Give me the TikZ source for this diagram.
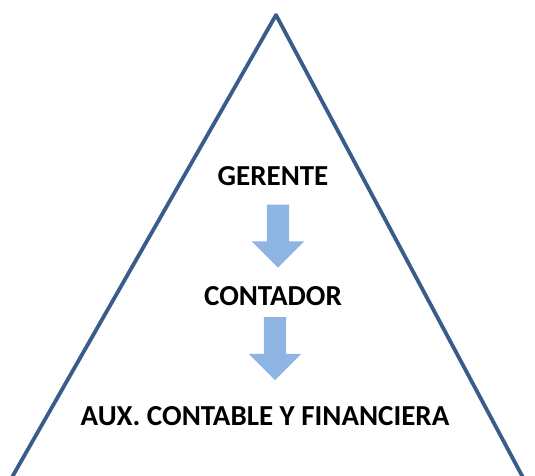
\documentclass[tikz,border=0pt]{standalone}
\usepackage{fontspec}
\setmainfont{Carlito}
\usetikzlibrary{shapes.arrows}
\usetikzlibrary{positioning}

\definecolor{edgeblue}{RGB}{56,93,138}
\definecolor{arrowblue}{RGB}{142,180,227}

\begin{document}
\begin{tikzpicture}[
        x=1pt, y=-1pt,
        rank/.style={font=\bfseries\fontsize{29}{33}\selectfont, inner sep=0},
        down/.style={single arrow, fill=arrowblue, draw=none, rotate=-90,
            inner xsep=0pt, inner ysep=11pt, minimum height=63pt,
            single arrow head extend=15pt, single arrow head indent=0pt},
        edge/.style={draw=edgeblue, line width=3.8pt, line join=round}
    ]

        % frame of the picture
        \useasboundingbox (0,0) rectangle (535,476);
        \clip (0,0) rectangle (535,476);

        % pyramid
        \coordinate (apex) at (276,15);
        \coordinate (leftfoot) at (-1,500);
        \coordinate (rightfoot) at (535,500);
        \draw[edge] (leftfoot) -- (apex) -- (rightfoot);

        % levels
        \node[rank] (gerente) at (273,176) {GERENTE};
        \node[rank] (contador) at (273,296) {CONTADOR};
        \node[rank] (auxiliar) at (265,416) {AUX. CONTABLE Y FINANCIERA};

        % block arrows between levels
        \node[down] (arrow1) at (278,230.5) {};
        \node[down] (arrow2) at (275,343) {};

    \end{tikzpicture}
\end{document}
